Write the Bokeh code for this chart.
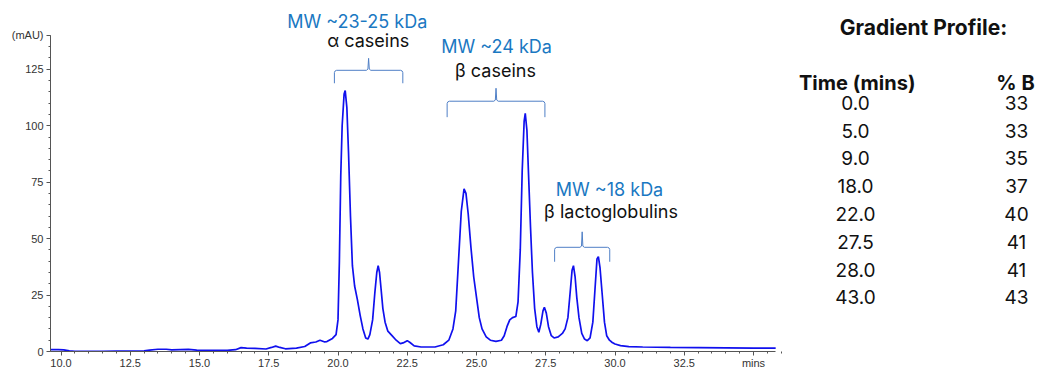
from bokeh.plotting import figure
from bokeh.models import Range1d, FixedTicker, NumeralTickFormatter
from bokeh.core.properties import value
from bokeh.embed import file_html
from bokeh.resources import INLINE

# ---------------- data ----------------
time_min = [9.62, 9.9, 10.1, 10.3, 10.5, 11.0, 11.5, 12.0, 12.5, 13.0, 13.2, 13.5, 13.8, 14.0,
            14.3, 14.6, 14.9, 15.5, 16.0, 16.3, 16.5, 16.7, 17.0, 17.4, 17.6, 17.75, 17.9,
            18.1, 18.5, 18.8, 19.0, 19.2, 19.35, 19.5, 19.6, 19.8, 19.93, 20.0, 20.05, 20.1,
            20.15, 20.22, 20.26, 20.32, 20.38, 20.45, 20.52, 20.6, 20.7, 20.8, 20.9, 21.0,
            21.08, 21.15, 21.25, 21.33, 21.4, 21.45, 21.5, 21.56, 21.62, 21.7, 21.8, 21.95,
            22.1, 22.25, 22.35, 22.5, 22.6, 22.75, 23.0, 23.5, 23.8, 24.0, 24.15, 24.25, 24.35,
            24.45, 24.55, 24.62, 24.7, 24.8, 24.9, 25.0, 25.1, 25.2, 25.35, 25.5, 25.7, 25.9,
            26.0, 26.1, 26.2, 26.3, 26.42, 26.5, 26.58, 26.65, 26.72, 26.76, 26.82, 26.88,
            26.95, 27.02, 27.1, 27.18, 27.25, 27.32, 27.4, 27.45, 27.52, 27.6, 27.7, 27.8,
            27.95, 28.1, 28.2, 28.3, 28.38, 28.45, 28.5, 28.56, 28.62, 28.7, 28.8, 28.9, 29.0,
            29.1, 29.2, 29.28, 29.35, 29.4, 29.46, 29.54, 29.62, 29.7, 29.8, 29.9, 30.0, 30.2,
            30.5, 31.0, 32.0, 33.0, 34.0, 35.0, 35.8]
absorbance_mau = [0.8, 0.8, 0.7, 0.3, 0.1, 0.1, 0.1, 0.2, 0.2, 0.3, 0.6, 1.0, 1.0, 0.7,
                  0.8, 0.9, 0.6, 0.5, 0.5, 0.8, 1.7, 1.5, 1.4, 1.1, 1.8, 2.4, 1.8,
                  1.2, 1.5, 2.2, 3.8, 4.2, 5.0, 4.3, 4.4, 5.8, 7.5, 14, 40, 78,
                  100, 114, 115.6, 108, 88, 60, 38, 29, 23, 16, 10, 6,
                  5.5, 7.5, 14, 26, 35, 38, 35, 27, 19, 13, 9, 7,
                  5, 3.5, 3.8, 4.8, 4.0, 2.5, 2.0, 2.0, 3.0, 5, 10, 18, 40,
                  62, 72, 70, 61, 46, 33, 24, 15, 10, 6.5, 5, 4.5, 5,
                  7, 11, 14, 15, 15.5, 22, 45, 80, 102, 105.5, 98, 78,
                  55, 35, 19, 11, 8.5, 12, 18, 19.6, 17, 11, 7, 6,
                  6.5, 8, 10, 15, 26, 36, 38, 33, 24, 15, 8, 5.5, 4.8,
                  6, 13, 28, 41, 42, 37, 25, 13, 7, 5, 4, 3.3, 2.6,
                  2.2, 2.0, 1.8, 1.7, 1.6, 1.5, 1.5]

group_mw = ["MW ~23-25 kDa", "MW ~24 kDa", "MW ~18 kDa"]
group_name = ["α caseins", "β caseins", "β lactoglobulins"]
group_start = [19.87, 23.94, 27.82]
group_end = [22.34, 27.47, 29.81]

gradient_time = ["0.0", "5.0", "9.0", "18.0", "22.0", "27.5", "28.0", "43.0"]
gradient_pct_b = ["33", "33", "35", "37", "40", "41", "41", "43"]

x_ticks = [10.0, 12.5, 15.0, 17.5, 20.0, 22.5, 25.0, 27.5, 30.0, 32.5, 35.0]
x_unit_label = "mins"
y_ticks = [0, 25, 50, 75, 100, 125, 140]
y_unit_label = "(mAU)"

# ---------------- layout helpers (screen px -> data) ----------------
PX_PER_MIN = 27.7
X10_PX = 60.5
FRAME_LEFT = 50
FRAME_BOTTOM = 352
AXIS_TOP = 35
PX_PER_UNIT = (FRAME_BOTTOM - AXIS_TOP) / 140.0
W, H = 1038, 371


def sx(px):
    return 10 + (px - X10_PX) / PX_PER_MIN


def sy(py):
    return (FRAME_BOTTOM - py) / PX_PER_UNIT


X0 = sx(FRAME_LEFT)
X1 = sx(W)
Y1 = sy(0)

p = figure(width=W, height=H, output_backend="svg", toolbar_location=None,
           x_range=Range1d(X0, X1), y_range=Range1d(0, Y1),
           min_border_left=FRAME_LEFT, min_border_right=0, min_border_top=0,
           min_border_bottom=H - FRAME_BOTTOM)
p.outline_line_color = None
p.grid.visible = False
p.background_fill_color = "white"
p.border_fill_color = "white"

# axes
x_minor = [9.5 + 0.5 * i for i in range(54)]
y_minor = [5 * i for i in range(29)]
p.xaxis.ticker = FixedTicker(ticks=x_ticks, minor_ticks=x_minor)
p.xaxis.formatter = NumeralTickFormatter(format="0.0")
p.xaxis.major_label_overrides = {x_ticks[-1]: x_unit_label}
p.xaxis.bounds = (X0, 35.8)
p.yaxis.ticker = FixedTicker(ticks=y_ticks, minor_ticks=y_minor)
p.yaxis.major_label_overrides = {y_ticks[-1]: y_unit_label}
p.yaxis.bounds = (0, 140)
for ax in (p.xaxis, p.yaxis):
    ax.axis_line_color = "#555555"
    ax.major_tick_line_color = "#555555"
    ax.minor_tick_line_color = "#555555"
    ax.major_tick_in = 0
    ax.major_tick_out = 4
    ax.minor_tick_in = 0
    ax.minor_tick_out = 2
    ax.major_label_text_font = "Liberation Sans"
    ax.major_label_text_font_size = "11px"
    ax.major_label_text_color = "#333333"
p.xaxis.major_label_standoff = 1
p.yaxis.major_label_standoff = 3

# chromatogram
p.line(time_min, absorbance_mau, line_color="#1010ee", line_width=1.7)

# group annotations
brace_h = [sy(70), sy(101), sy(247.5)]
brace_b = [sy(83), sy(117), sy(262)]
brace_n = [sy(58), sy(88), sy(232)]
mw_x = [sx(356.7), sx(496), sx(609)]
mw_y = [sy(21), sy(46), sy(190)]
nm_x = [sx(367.8), sx(495), sx(610.5)]
nm_y = [sy(40), sy(70), sy(212)]

bx, by = [], []
for s, e, yh, yb, yn in zip(group_start, group_end, brace_h, brace_b, brace_n):
    c = (s + e) / 2
    dx = 0.08
    bx.append([s, s, s + 0.025, s + dx, c - dx, c - 0.025, c, c + 0.025, c + dx,
               e - dx, e - 0.025, e, e])
    by.append([yb, yh - 1.0, yh - 0.3, yh, yh, yh + 0.5, yn, yh + 0.5, yh, yh,
               yh - 0.3, yh - 1.0, yb])
p.multi_line(bx, by, line_color="#4f7fc6", line_width=1)

p.text(x=mw_x, y=mw_y, text=group_mw, text_font=value("Inter"), text_font_size="18px",
       text_color="#1a78c2", text_align="center", text_baseline="middle")
p.text(x=nm_x, y=nm_y, text=group_name, text_font=value("Inter"), text_font_size="18px",
       text_color="#111111", text_align="center", text_baseline="middle")

# gradient table
p.text(x=[sx(923)], y=[sy(27)], text=["Gradient Profile:"], text_font=value("Inter"),
       text_font_size="21px", text_font_style="bold", text_color="#111111",
       text_align="center", text_baseline="middle")
p.text(x=[sx(856.7), sx(1015)], y=[sy(83), sy(83)], text=["Time (mins)", "% B"],
       text_font=value("Inter"), text_font_size="20px", text_font_style="bold",
       text_color="#111111", text_align="center", text_baseline="middle")
row_y = [sy(102.5 + 27.9 * i) for i in range(len(gradient_time))]
p.text(x=[sx(855)] * len(gradient_time), y=row_y, text=gradient_time,
       text_font=value("Inter"), text_font_size="19px", text_color="#111111",
       text_align="center", text_baseline="middle")
p.text(x=[sx(1016)] * len(gradient_pct_b), y=row_y, text=gradient_pct_b,
       text_font=value("Inter"), text_font_size="19px", text_color="#111111",
       text_align="center", text_baseline="middle")

open("out.html", "w").write(file_html(p, INLINE))
